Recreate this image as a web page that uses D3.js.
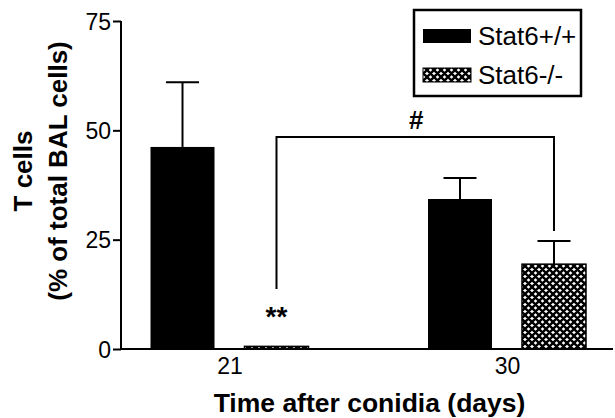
<!DOCTYPE html>
<html><head><meta charset="utf-8">
<script src="https://cdn.jsdelivr.net/npm/d3@7/dist/d3.min.js"></script>
<style>body{margin:0;background:#fff}svg{display:block;font-family:"Liberation Sans",Arial,sans-serif}</style>
</head><body><svg id="c" width="615" height="418"></svg>
<script>
const groups = ["21", "30"];
const series = ["Stat6+/+", "Stat6-/-"];
const means = [[46.2, 0.6], [34.3, 19.4]];
const errors = [[14.8, 0], [4.8, 5.3]];
const yTicks = [0, 25, 50, 75];
const bracket = {top: 48.5, leftBottom: 13.7, rightBottom: 27};

const FONT = "Liberation Sans, Arial, sans-serif";
const svg = d3.select("#c");
const defs = svg.append("defs");
const pat = defs.append("pattern").attr("id","hatch").attr("patternUnits","userSpaceOnUse")
  .attr("width",7).attr("height",7);
pat.append("rect").attr("width",7).attr("height",7).attr("fill","#fff");
pat.append("path").attr("d","M-1,1 L1,-1 M0,7 L7,0 M6,8 L8,6 M-1,6 L1,8 M0,0 L7,7 M6,-1 L8,1")
  .attr("stroke","#000").attr("stroke-width",2.4);

const y = d3.scaleLinear().domain([0,75]).range([349,21]);
const x0 = d3.scalePoint().domain(groups).range([229.5,507]);
const x1 = d3.scaleBand().domain(series).range([-79,79]).paddingInner(0.319).paddingOuter(0);
const fills = ["#000","url(#hatch)"];

// bars
groups.forEach((g,gi)=>{
  series.forEach((s,si)=>{
    const bx = x0(g)+x1(s), bw = x1.bandwidth();
    const v = means[gi][si], e = errors[gi][si];
    svg.append("rect").attr("x",bx).attr("y",y(v)).attr("width",bw).attr("height",y(0)-y(v))
      .attr("fill",fills[si]).attr("stroke","#000").attr("stroke-width",si?1.5:0);
    if(e>0){
      const cx = bx+bw/2;
      svg.append("line").attr("x1",cx).attr("x2",cx).attr("y1",y(v)).attr("y2",y(v+e))
        .attr("stroke","#000").attr("stroke-width",2);
      svg.append("line").attr("x1",cx-16.5).attr("x2",cx+16.5).attr("y1",y(v+e)).attr("y2",y(v+e))
        .attr("stroke","#000").attr("stroke-width",2);
    }
  });
});

// axes
const yAxis = d3.axisLeft(y).tickValues(yTicks).tickSize(8).tickPadding(2);
const ga = svg.append("g").attr("transform","translate(121,0)").call(yAxis);
ga.select(".domain").attr("stroke-width",2).attr("d","M0,"+y(75)+"V"+y(0));
ga.selectAll(".tick line").attr("stroke-width",2);
ga.selectAll(".tick text").attr("font-size",23).attr("font-family",FONT).attr("fill","#000").attr("dy","0.36em");

svg.append("line").attr("x1",121).attr("x2",613).attr("y1",y(0)).attr("y2",y(0)).attr("stroke","#000").attr("stroke-width",2);
const xAxis = d3.axisBottom(x0).tickSize(0).tickPadding(9);
const gx = svg.append("g").attr("transform","translate(0,"+y(0)+")").call(xAxis);
gx.select(".domain").remove();
gx.selectAll(".tick text").attr("font-size",23).attr("font-family",FONT).attr("fill","#000");

// bracket
const bl = x0("21")+x1("Stat6-/-")+x1.bandwidth()/2;
const br = x0("30")+x1("Stat6-/-")+x1.bandwidth()/2;
svg.append("path").attr("d",`M${bl},${y(bracket.leftBottom)}V${y(bracket.top)}H${br}V${y(bracket.rightBottom)}`)
  .attr("fill","none").attr("stroke","#000").attr("stroke-width",2);
svg.append("text").attr("x",(bl+br)/2+1).attr("y",y(bracket.top)-8).attr("text-anchor","middle")
  .attr("font-size",26).attr("font-weight","bold").text("#");
svg.append("text").attr("x",bl).attr("y",326).attr("text-anchor","middle")
  .attr("font-size",28).attr("font-weight","bold").text("**");

// axis titles
const yt = svg.append("text").attr("transform","translate(0,171) rotate(-90)").attr("text-anchor","middle")
  .attr("font-size",26).attr("font-weight","bold");
yt.append("tspan").attr("x",0).attr("y",32).text("T cells");
yt.append("tspan").attr("x",0).attr("y",67).text("(% of total BAL cells)");
svg.append("text").attr("x",369.5).attr("y",412).attr("text-anchor","middle")
  .attr("font-size",26.5).attr("font-weight","bold").text("Time after conidia (days)");

// legend
svg.append("rect").attr("x",414).attr("y",10).attr("width",167).attr("height",86)
  .attr("fill","#fff").attr("stroke","#000").attr("stroke-width",2.5);
series.forEach((s,i)=>{
  const ly = 29 + i*39;
  svg.append("rect").attr("x",423).attr("y",ly).attr("width",48).attr("height",14)
    .attr("fill",fills[i]).attr("stroke","#000").attr("stroke-width",i?1:0);
  svg.append("text").attr("x",478).attr("y",ly+16).attr("font-size",26).text(s);
});
</script></body></html>
